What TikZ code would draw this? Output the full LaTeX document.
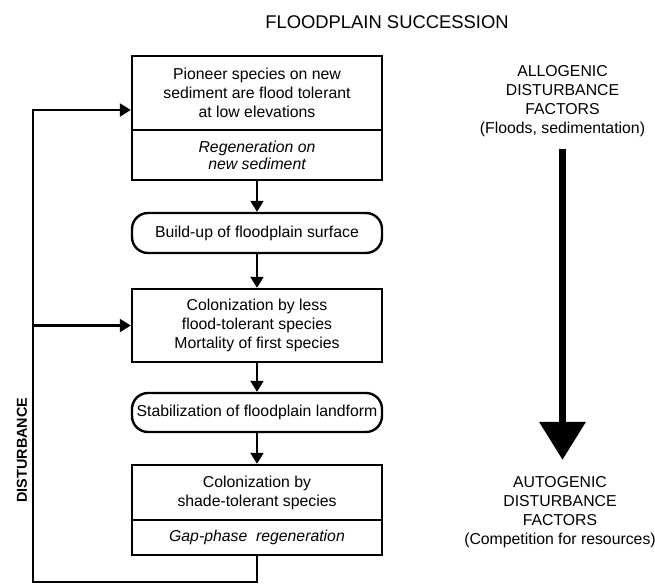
\documentclass[tikz,border=0pt]{standalone}
\usepackage{fontspec}
\setmainfont{Liberation Sans}
\usetikzlibrary{arrows.meta}

\begin{document}
\begin{tikzpicture}[x=0.5pt,y=-0.5pt,
  box/.style={draw,line width=1.2pt,minimum width=125pt,inner sep=0pt,align=center,
    font=\fontsize{7.9}{9.5}\selectfont},
  itbox/.style={box,font=\fontsize{7.9}{8.6}\selectfont\itshape},
  roundbox/.style={box,rounded corners=8pt},
  flow/.style={line width=1.1pt,-{Triangle[length=5.5pt,width=6.5pt]}},
  side/.style={align=center,inner sep=0pt,font=\fontsize{7.9}{9.5}\selectfont},
  bigarrow/.style={line width=3.5pt,-{Triangle[length=19pt,width=22.5pt]}}]
  \useasboundingbox (0,0) rectangle (655,584);

  % Title
  \node (title) at (387,22) {\fontsize{9.2}{11}\selectfont FLOODPLAIN SUCCESSION};

  % The succession boxes
  \node[box,minimum height=37pt] (pioneer) at (257,93) {Pioneer species on new\\sediment are flood tolerant\\at low elevations};
  \node[itbox,minimum height=25pt] (regen) at (257,155) {Regeneration on\\new sediment};
  \node[roundbox,minimum height=20pt] (buildup) at (257,233) {Build-up of floodplain surface};
  \node[box,minimum height=36.5pt] (colon) at (257,325.5) {Colonization by less\\flood-tolerant species\\Mortality of first species};
  \node[roundbox,minimum height=19.5pt] (stabil) at (257,412.5) {Stabilization of floodplain landform};
  \node[box,minimum height=27.5pt] (shade) at (257,492.5) {Colonization by\\shade-tolerant species};
  \node[itbox,minimum height=17.5pt] (gap) at (257,537.5) {Gap-phase\ \ regeneration};

  % Arrows down the column
  \draw[flow] (regen) -- (buildup);
  \draw[flow] (buildup) -- (colon);
  \draw[flow] (colon) -- (stabil);
  \draw[flow] (stabil) -- (shade);

  % Disturbance loop
  \coordinate (bl) at (33,582);
  \coordinate (in1) at (33,110);
  \draw[flow] (gap.south) |- (bl) -- (in1) -- (in1 -| pioneer.west);
  \draw[flow] (bl |- colon.west) -- (colon.west);
  \node[rotate=90,font=\fontsize{7.2}{9}\selectfont\bfseries] (dist) at (22,450) {DISTURBANCE};

  % Factors on the right
  \node[side] (allo) at (562.5,101.5) {ALLOGENIC\\DISTURBANCE\\FACTORS\\(Floods, sedimentation)};
  \node[side] (auto) at (560,512.5) {AUTOGENIC\\DISTURBANCE\\FACTORS\\(Competition for resources)};
  \draw[bigarrow,shorten <=5.5pt,shorten >=8.3pt] (allo) -- (allo |- auto.north);
\end{tikzpicture}
\end{document}
